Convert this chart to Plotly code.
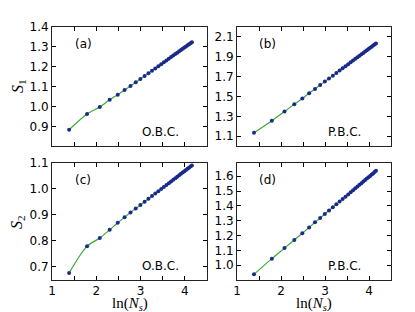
import numpy as np
import plotly.graph_objects as go

# System sizes (x axis is ln(N_s))
N_s = [4, 6, 8, 10, 12, 14, 16, 18, 20, 22, 24, 26, 28, 30, 32, 34, 36, 38, 40,
       42, 44, 46, 48, 50, 52, 54, 56, 58, 60, 62, 64]

S1_obc = [0.885, 0.964, 0.999, 1.035, 1.061, 1.084, 1.104, 1.1225, 1.1393, 1.1544,
          1.1682, 1.1809, 1.1926, 1.2035, 1.2138, 1.2234, 1.2325, 1.2411, 1.2492,
          1.2570, 1.2642, 1.2714, 1.2780, 1.2845, 1.2907, 1.2967, 1.3024, 1.3080,
          1.3134, 1.3186, 1.3237]
S1_pbc = [1.134, 1.256, 1.349, 1.421, 1.480, 1.533, 1.576, 1.615, 1.650, 1.681,
          1.710, 1.737, 1.761, 1.784, 1.805, 1.825, 1.844, 1.862, 1.879, 1.895,
          1.911, 1.926, 1.939, 1.953, 1.966, 1.978, 1.990, 2.002, 2.013, 2.024, 2.035]
S2_obc = [0.677, 0.780, 0.811, 0.843, 0.870, 0.891, 0.909, 0.9243, 0.938, 0.9505,
          0.9619, 0.9723, 0.9820, 0.9910, 0.9995, 1.0073, 1.0149, 1.0220, 1.0286,
          1.0350, 1.0410, 1.0469, 1.0524, 1.0578, 1.0628, 1.0678, 1.0725, 1.0771,
          1.0815, 1.0858, 1.0900]
S2_pbc = [0.938, 1.044, 1.115, 1.170, 1.216, 1.254, 1.289, 1.318, 1.345, 1.369,
          1.390, 1.410, 1.429, 1.446, 1.462, 1.477, 1.492, 1.505, 1.518, 1.530,
          1.542, 1.553, 1.564, 1.574, 1.584, 1.593, 1.602, 1.611, 1.619, 1.628, 1.636]

x_tickvals = [1, 2, 3, 4]
x_minor = [1.5, 2.5, 3.5]

panels = [
    dict(y=S1_obc, tag='(a)', bc='O.B.C.', rng=[0.803, 1.4],
         ticks=[0.9, 1.0, 1.1, 1.2, 1.3, 1.4]),
    dict(y=S1_pbc, tag='(b)', bc='P.B.C.', rng=[1.0, 2.2],
         ticks=[1.1, 1.3, 1.5, 1.7, 1.9, 2.1]),
    dict(y=S2_obc, tag='(c)', bc='O.B.C.', rng=[0.65, 1.1],
         ticks=[0.7, 0.8, 0.9, 1.0, 1.1]),
    dict(y=S2_pbc, tag='(d)', bc='P.B.C.', rng=[0.9, 1.69],
         ticks=[1.0, 1.1, 1.2, 1.3, 1.4, 1.5, 1.6]),
]

x = np.log(np.array(N_s, dtype=float))

W, H = 415, 312
ml, mr, mt, mb = 44, 32, 15, 40
pw, ph = W - ml - mr, H - mt - mb

def fx(px):
    return (px - ml) / pw

def fy(py):
    return 1 - (py - mt) / ph

xdoms = [[fx(44), fx(199)], [fx(229), fx(383)]]
ydoms = [[fy(136), fy(15)], [fy(272), fy(153)]]

fig = go.Figure()
tick_font = dict(family='DejaVu Sans', size=12, color='black')
annotations = []

for i, p in enumerate(panels):
    r, c = divmod(i, 2)
    k = i + 1
    xa = 'x' if k == 1 else f'x{k}'
    ya = 'y' if k == 1 else f'y{k}'
    fig.add_trace(go.Scatter(
        x=x, y=p['y'], mode='lines+markers', xaxis=xa, yaxis=ya,
        line=dict(color='#3aaa35', width=1.2, shape='spline', smoothing=0.8),
        marker=dict(color='#1a2a88', size=4, line=dict(width=0)),
        showlegend=False, hoverinfo='skip'))
    xkey = 'xaxis' if k == 1 else f'xaxis{k}'
    ykey = 'yaxis' if k == 1 else f'yaxis{k}'
    fig.layout[xkey] = dict(
        domain=xdoms[c], anchor=ya, range=[1, 4.5],
        tickmode='array', tickvals=x_tickvals,
        ticktext=[str(v) for v in x_tickvals],
        minor=dict(tickmode='array', tickvals=x_minor, ticks='inside',
                   ticklen=4, tickwidth=1, tickcolor='black', showgrid=False),
        showticklabels=(r == 1), ticks='inside', ticklen=4, tickwidth=1,
        tickcolor='black', showline=True, linecolor='#222', linewidth=1,
        mirror='ticks', showgrid=False, zeroline=False, tickfont=tick_font)
    fig.layout[ykey] = dict(
        domain=ydoms[r], anchor=xa, range=p['rng'],
        tickmode='array', tickvals=p['ticks'],
        ticktext=[format(t, '.1f') for t in p['ticks']],
        ticks='inside', ticklen=4, tickwidth=1, tickcolor='black',
        showline=True, linecolor='#222', linewidth=1, mirror='ticks',
        showgrid=False, zeroline=False, tickfont=tick_font)
    annotations.append(dict(
        text=p['tag'], xref=f'{xa} domain', yref=f'{ya} domain',
        x=0.2, y=0.855, showarrow=False, xanchor='center', yanchor='middle',
        font=dict(family='DejaVu Sans', size=12, color='black')))
    annotations.append(dict(
        text=p['bc'], xref=f'{xa} domain', yref=f'{ya} domain',
        x=0.70, y=0.116, showarrow=False, xanchor='center', yanchor='middle',
        font=dict(family='DejaVu Sans', size=12, color='black')))

serif = dict(family='Liberation Serif', size=16, color='black')
xserif = dict(family='Liberation Serif', size=15, color='black')
annotations += [
    dict(text='<i>S</i><sub>1</sub>', xref='paper', yref='paper', x=fx(10),
         y=fy(75), textangle=-90, showarrow=False, xanchor='center',
         yanchor='middle', font=serif),
    dict(text='<i>S</i><sub>2</sub>', xref='paper', yref='paper', x=fx(10),
         y=fy(213), textangle=-90, showarrow=False, xanchor='center',
         yanchor='middle', font=serif),
    dict(text='ln(<i>N</i><sub><i>s</i></sub>)', xref='paper', yref='paper',
         x=fx(121.5), y=fy(296.5), showarrow=False, xanchor='center',
         yanchor='middle', font=xserif),
    dict(text='ln(<i>N</i><sub><i>s</i></sub>)', xref='paper', yref='paper',
         x=fx(306), y=fy(296.5), showarrow=False, xanchor='center',
         yanchor='middle', font=xserif),
]

fig.update_layout(
    width=W, height=H, margin=dict(l=ml, r=mr, t=mt, b=mb),
    paper_bgcolor='white', plot_bgcolor='white', annotations=annotations)

fig.write_html('out.html')
